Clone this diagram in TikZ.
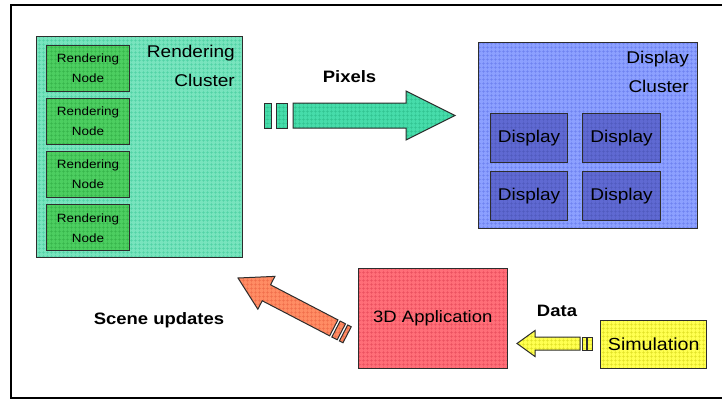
\documentclass[tikz,border=0pt]{standalone}
\usepackage{fontspec}
\setmainfont{Liberation Sans}[FakeStretch=1.12]
\usetikzlibrary{patterns.meta}
\definecolor{rclF}{RGB}{120,228,190}
\definecolor{rclG}{RGB}{80,210,165}
\definecolor{rnF}{RGB}{76,206,96}
\definecolor{rnG}{RGB}{55,180,75}
\definecolor{pxF}{RGB}{70,220,170}
\definecolor{pxG}{RGB}{50,195,145}
\definecolor{dclF}{RGB}{140,160,255}
\definecolor{dclG}{RGB}{110,130,240}
\definecolor{dF}{RGB}{95,105,210}
\definecolor{dG}{RGB}{80,90,190}
\definecolor{appF}{RGB}{255,110,120}
\definecolor{appG}{RGB}{235,80,95}
\definecolor{scF}{RGB}{255,140,100}
\definecolor{scG}{RGB}{240,110,75}
\definecolor{simF}{RGB}{255,255,80}
\definecolor{simG}{RGB}{225,225,40}
\definecolor{edge}{RGB}{45,45,45}
\tikzset{
  gridfill/.style 2 args={preaction={fill=#1}, pattern={Hatch[distance=4pt,line width=0.5pt]}, pattern color=#2},
  boxst/.style={draw=edge, line width=1pt, inner sep=0pt},
  arrst/.style={draw=edge, line width=1pt, line join=miter},
  lbl/.style={font=\fontsize{16.5}{19}\selectfont\bfseries},
}
\begin{document}
\begin{tikzpicture}[x=1pt,y=-1pt]
\useasboundingbox (0,0) rectangle (722,399);
\fill[white] (0,0) rectangle (722,399);
\draw[line width=2pt] (722,5) -- (10.5,5) -- (10.5,397.5) -- (722,397.5);

% Rendering cluster
\node[boxst, gridfill={rclF}{rclG}, minimum width=205.6pt, minimum height=220.6pt] (rc) at (139.5,147) {};
\node[anchor=base east, font=\fontsize{17}{20}\selectfont, inner sep=0pt] (rct1) at (235,57) {Rendering};
\node[anchor=base east, font=\fontsize{17}{20}\selectfont, inner sep=0pt] (rct2) at (235,86) {Cluster};
\foreach \n/\y in {1/68, 2/121.3, 3/174.7, 4/227.8} {
  \node[boxst, gridfill={rnF}{rnG}, minimum width=82.3pt, minimum height=46pt, align=center,
        font=\fontsize{12}{20}\selectfont] (rn\n) at (88,\y) {Rendering\\Node};
}

% Display cluster
\node[boxst, gridfill={dclF}{dclG}, minimum width=219.4pt, minimum height=186pt] (dc) at (588,135.3) {};
\node[anchor=base east, font=\fontsize{17}{20}\selectfont, inner sep=0pt] (dct1) at (689,63) {Display};
\node[anchor=base east, font=\fontsize{17}{20}\selectfont, inner sep=0pt] (dct2) at (689,92) {Cluster};
\foreach \n/\x/\y in {1/529/138, 2/621.5/138, 3/529/196, 4/621.5/196} {
  \node[boxst, gridfill={dF}{dG}, minimum width=77.6pt, minimum height=49pt,
        font=\fontsize{17}{20}\selectfont] (d\n) at (\x,\y) {\raisebox{-1pt}{Display}};
}

% 3D Application
\node[boxst, gridfill={appF}{appG}, minimum width=149pt, minimum height=100pt,
      font=\fontsize{16.5}{20}\selectfont] (app) at (432.8,318.3) {\raisebox{-1.5pt}{3D Application}};

% Simulation
\node[boxst, gridfill={simF}{simG}, minimum width=106pt, minimum height=48.3pt,
      font=\fontsize{17.5}{20}\selectfont] (sim) at (653.7,344.2) {Simulation};

% Pixels arrow
\coordinate (pxTail) at (293,115.5);
\begin{scope}[shift={(pxTail)}]
  \draw[arrst, gridfill={pxF}{pxG}] (0,-12.5) -- (113,-12.5) -- (113,-24.5) -- (162,0) -- (113,24.5) -- (113,12.5) -- (0,12.5) -- cycle;
  \draw[arrst, gridfill={pxF}{pxG}] (-29,-12.5) rectangle (-22,12.5);
  \draw[arrst, gridfill={pxF}{pxG}] (-17,-12.5) rectangle (-6,12.5);
\end{scope}
\node[lbl] (pxl) at (349.5,77) {Pixels};

% Data arrow
\coordinate (dtTip) at (517,343.5);
\begin{scope}[shift={(dtTip)}]
  \draw[arrst, gridfill={simF}{simG}] (0,0) -- (18,-13) -- (18,-6.5) -- (63,-6.5) -- (63,6.5) -- (18,6.5) -- (18,13) -- cycle;
  \draw[arrst, gridfill={simF}{simG}] (65,-6.5) rectangle (69.5,6.5);
  \draw[arrst, gridfill={simF}{simG}] (70.5,-6.5) rectangle (75,6.5);
\end{scope}
\node[lbl] (dtl) at (557,311) {Data};

% Scene updates arrow
\coordinate (scTip) at (238,278);
\begin{scope}[shift={(scTip)}, rotate=-27.5]
  \draw[arrst, gridfill={scF}{scG}] (0,0) -- (32,-18.5) -- (32,-9) -- (108,-9) -- (108,9) -- (32,9) -- (32,18.5) -- cycle;
  \draw[arrst, gridfill={scF}{scG}] (110.5,-9) rectangle (116.5,9);
  \draw[arrst, gridfill={scF}{scG}] (119,-9) rectangle (123,9);
\end{scope}
\node[lbl] (scl) at (159,320.5) {Scene updates};
\end{tikzpicture}
\end{document}
